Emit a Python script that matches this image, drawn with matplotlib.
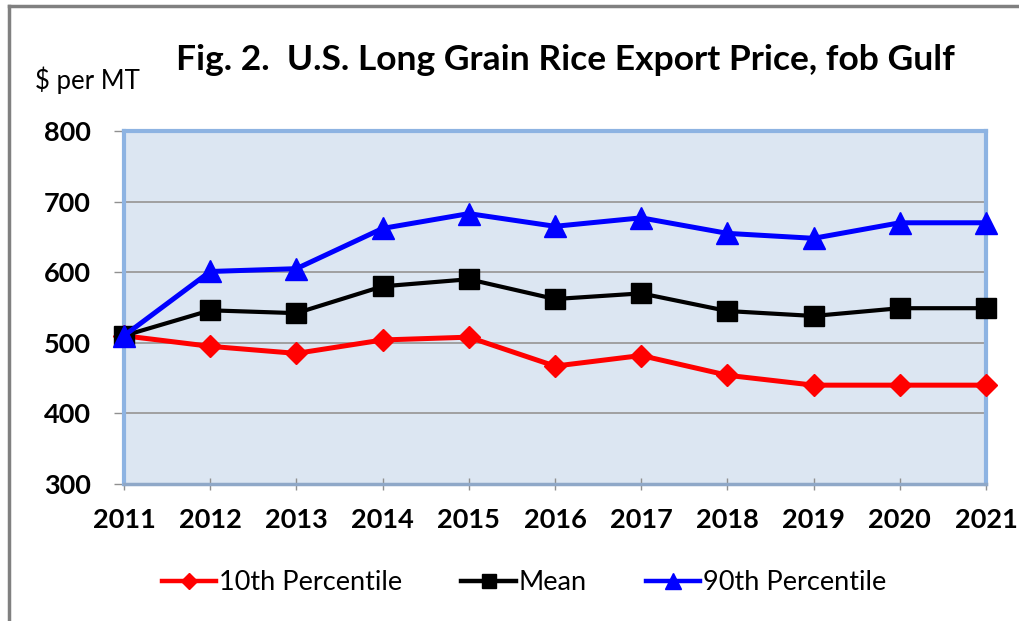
import matplotlib
matplotlib.use("Agg")
import matplotlib.pyplot as plt
from matplotlib.lines import Line2D

years = [2011, 2012, 2013, 2014, 2015, 2016, 2017, 2018, 2019, 2020, 2021]
p10 = [510, 495, 485, 504, 508, 467, 482, 454, 440, 440, 440]
mean = [510, 546, 542, 580, 590, 562, 570, 545, 538, 549, 549]
p90 = [510, 601, 605, 662, 683, 665, 677, 655, 648, 670, 670]
yticks = [300, 400, 500, 600, 700, 800]

title = "Fig. 2.  U.S. Long Grain Rice Export Price, fob Gulf"
ylabel = "$ per MT"
labels = ["10th Percentile", "Mean", "90th Percentile"]

plt.rcParams['font.family'] = ['Lato', 'DejaVu Sans']

fig = plt.figure(figsize=(10.2, 6.21), dpi=100)
fig.patch.set_facecolor('white')
ax = fig.add_axes([124/1020, 1-484/621, 862/1020, 353/621])
ax.set_facecolor('#DCE6F2')

ax.plot(years, p10, color='#FF0000', lw=3.6, marker='D', ms=11, label=labels[0], zorder=3)
ax.plot(years, mean, color='#000000', lw=3.0, marker='s', ms=14, label=labels[1], zorder=4)
ax.plot(years, p90, color='#0000FF', lw=3.6, marker='^', ms=15.5, label=labels[2], zorder=5)

ax.set_xlim(2011, 2021)
ax.set_ylim(300, 800)
ax.set_yticks(yticks)
ax.set_xticks(years)
ax.grid(axis='y', color='#A0A0A0', lw=1.4, zorder=1)
ax.set_axisbelow(True)
for s in ['top', 'right', 'left']:
    ax.spines[s].set_color('#8DB3E2')
    ax.spines[s].set_linewidth(3)
ax.spines['bottom'].set_color('#8FA8C8')
ax.spines['bottom'].set_linewidth(2.5)
for lab in ax.get_xticklabels() + ax.get_yticklabels():
    lab.set_fontweight('bold')
ax.tick_params(axis='y', length=7, width=1, color='#909090', labelsize=19.5, pad=17, direction='out')
ax.tick_params(axis='x', length=8, width=1, color='#909090', labelsize=19.5, pad=13, direction='inout')
for lab in ax.get_xticklabels():
    lab.set_clip_on(False)
for line in ax.lines:
    line.set_clip_on(False)

fig.text(565/1020, 1-60/621, title, ha='center', va='center', fontsize=25.5, fontweight='bold')
fig.text(35/1020, 1-80/621, ylabel, ha='left', va='center', fontsize=18.5)

handles = [Line2D([], [], color=l.get_color(), lw=3.2, marker=l.get_marker(), ms=l.get_markersize()*0.75)
           for l in ax.lines]
fig.legend(handles, labels, loc='center', bbox_to_anchor=(524/1020, 1-583/621), ncol=3,
           frameon=False, fontsize=19.5, handlelength=2.0, handletextpad=0.1, columnspacing=2.2)

# outer frame
fig.add_artist(Line2D([9/1020, 1], [1-6/621, 1-6/621], color='#808080', lw=2.5, transform=fig.transFigure))
fig.add_artist(Line2D([9/1020, 9/1020], [0, 1-6/621], color='#808080', lw=2.5, transform=fig.transFigure))

fig.savefig('out.png', dpi=100, facecolor='white')
